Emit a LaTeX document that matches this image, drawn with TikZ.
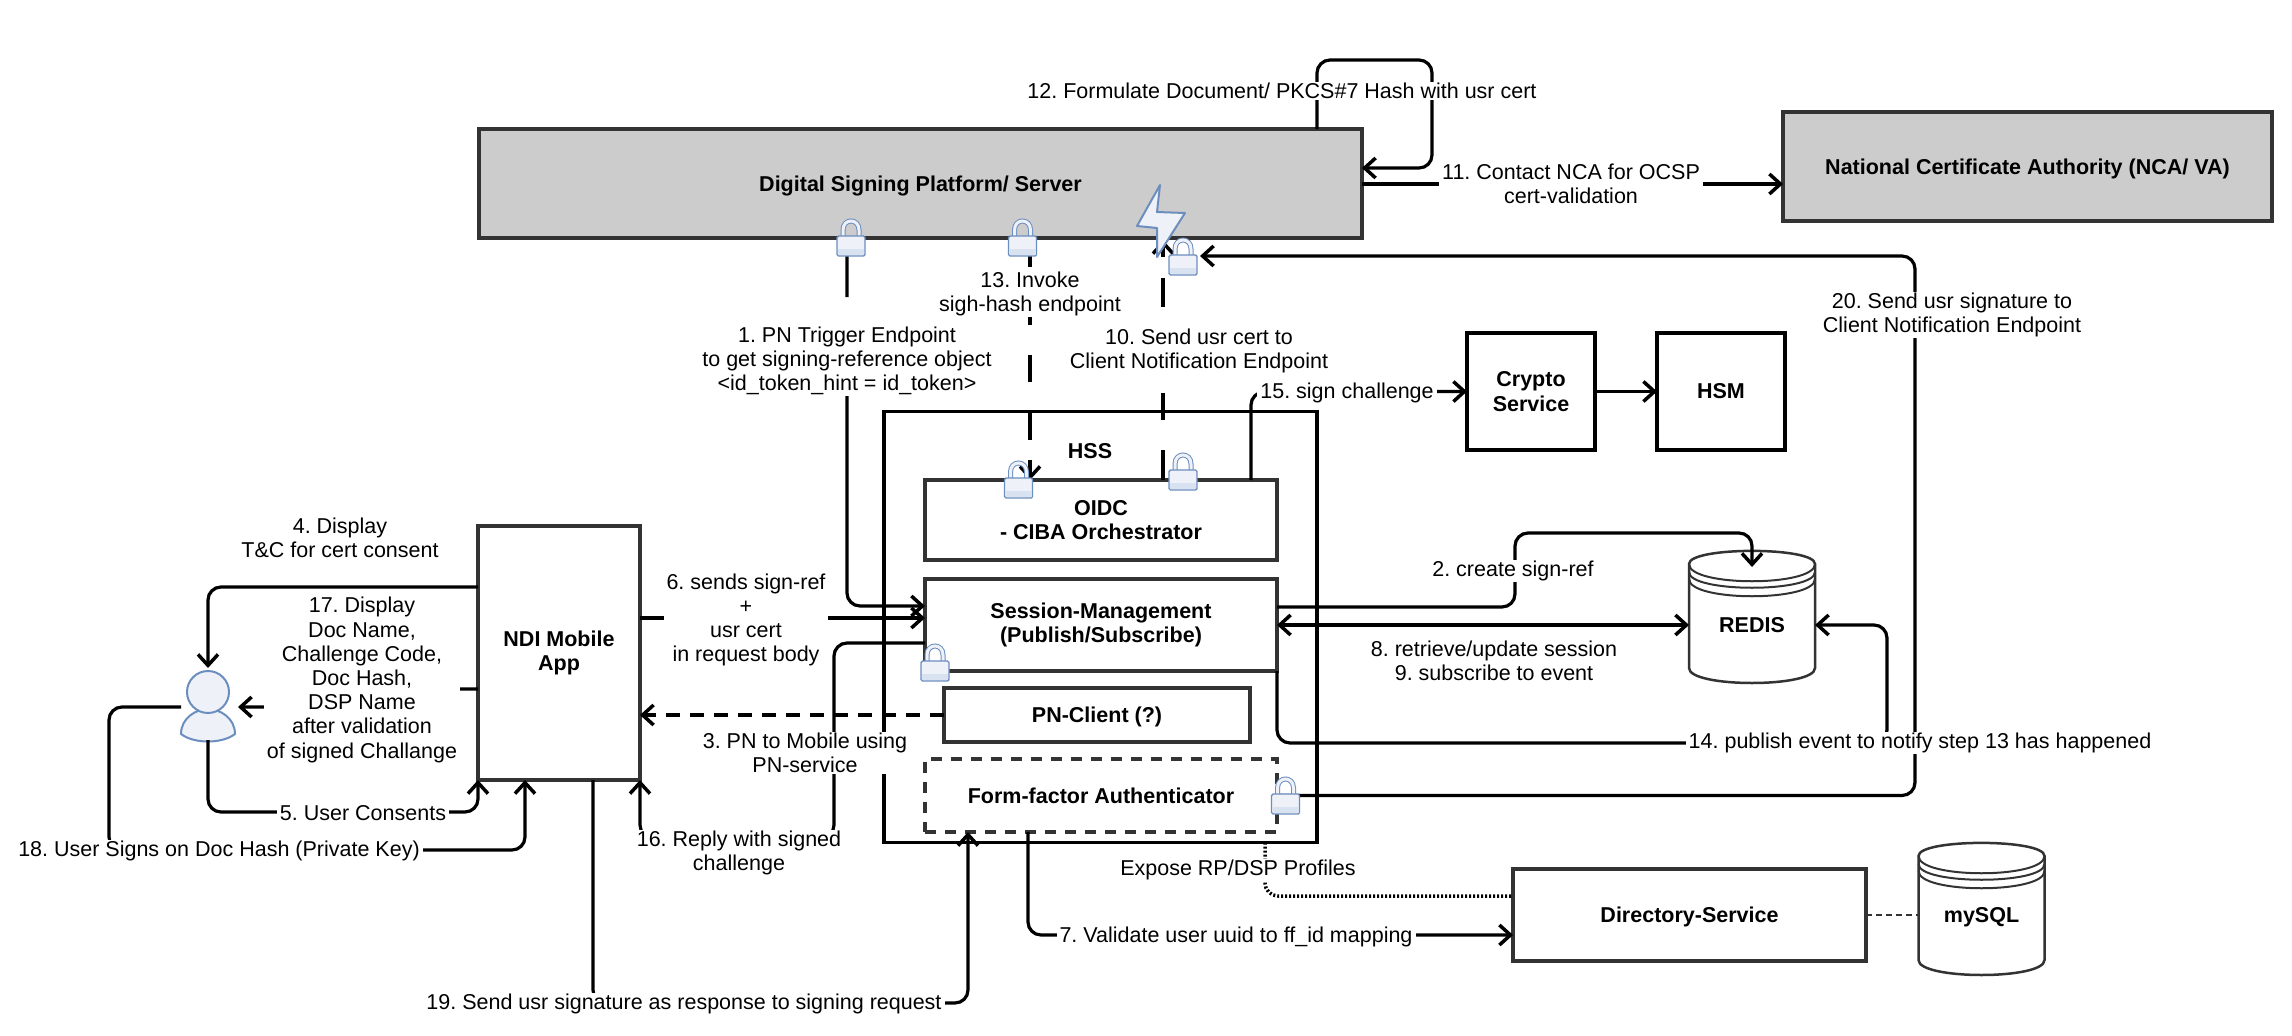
\documentclass[tikz,border=0pt]{standalone}
\usepackage{fontspec}
\setmainfont{Liberation Sans}
\usetikzlibrary{arrows.meta, positioning}
\definecolor{panelgray}{HTML}{CCCCCC}
\definecolor{edgegray}{HTML}{333333}
\definecolor{iconline}{HTML}{6C8EBF}
\definecolor{iconfill}{HTML}{EEF2F8}
\definecolor{iconband}{HTML}{D8E2F0}
\frenchspacing

\begin{document}
\begin{tikzpicture}[
    x=1pt, y=-1pt,
    box/.style={rectangle, draw=edgegray, line width=3.2pt, outer sep=0pt,
                align=center, font=\fontsize{21.5}{24.5}\selectfont\bfseries},
    panel/.style={box, fill=panelgray},
    store/.style={rectangle, outer sep=0pt, minimum width=126pt, minimum height=116pt,
                font=\fontsize{21.5}{24.5}\selectfont\bfseries},
    steplabel/.style={fill=white, align=center, inner xsep=3pt, inner ysep=1pt,
                font=\fontsize{21.5}{24.2}\selectfont},
    arrow/.style={-{Straight Barb[length=11pt,width=20pt,line width=3.5pt]}, line width=3.2pt,
                rounded corners=13pt},
    datastore/.pic={
        \draw[edgegray, line width=2.5pt] (-63,-61) .. controls (-63,-78.5) and (63,-78.5) .. (63,-61)
            -- (63,43) .. controls (63,63) and (-63,63) .. (-63,43) -- cycle;
        \draw[edgegray, line width=2pt] (-63,-61) .. controls (-63,-38) and (63,-38) .. (63,-61);
        \draw[edgegray, line width=2pt] (-63,-53) .. controls (-63,-32) and (63,-32) .. (63,-53);
        \draw[edgegray, line width=2pt] (-63,-46) .. controls (-63,-23) and (63,-23) .. (63,-46);
    },
    lockicon/.pic={
        \draw[iconline, double=iconfill, double distance=3pt, line width=1pt]
            (-8,-1) -- (-8,-8) .. controls (-8,-20) and (8,-20) .. (8,-8) -- (8,-1);
        \draw[iconline, fill=iconfill, line width=1.4pt, rounded corners=1.5pt] (-14,-2) rectangle (14,18);
        \fill[iconband] (-13,11) rectangle (13,17);
    },
    usericon/.pic={
        \draw[iconline, fill=iconfill, line width=2pt] (-27,27) .. controls (-27,11) and (-12,2) .. (0,2)
            .. controls (12,2) and (27,11) .. (27,27) .. controls (14,37) and (-14,37) .. (-27,27) -- cycle;
        \draw[iconline, fill=iconfill, line width=2pt] (0,-15) circle (21);
    },
]
\useasboundingbox (0,0) rectangle (2292,1036);

% Server and authority
\node[panel, minimum width=883pt, minimum height=109pt, text depth=-6pt] (dsp) at (920.5,183.5)
    {Digital Signing Platform/ Server};
\node[panel, minimum width=489pt, minimum height=109pt, text depth=-6pt] (nca) at (2027.5,166.5)
    {National Certificate Authority (NCA/ VA)};

% HSS and the services in it
\node[box, draw=black, minimum width=433pt, minimum height=431pt] (hss) at (1100.5,627) {};
\node[font=\fontsize{21.5}{24.5}\selectfont\bfseries] (hsstitle) at (1090,451) {HSS};
\node[box, minimum width=352pt, minimum height=80pt] (oidc) at (1101,520)
    {OIDC\\- CIBA Orchestrator};
\node[box, minimum width=352pt, minimum height=92pt, below=19pt of oidc] (session)
    {Session-Management\\(Publish/Subscribe)};
\node[box, minimum width=306pt, minimum height=54pt, text depth=-6pt] (pnclient) at (1097,715) {PN-Client (?)};
\node[box, dash pattern=on 11pt off 9pt, minimum width=352pt, minimum height=73pt] (formfactor)
    at (1101,795.5) {Form-factor Authenticator};

% Crypto services
\node[box, draw=black, minimum width=128pt, minimum height=117pt] (crypto) at (1531,391.5)
    {Crypto\\Service};
\node[box, draw=black, minimum width=128pt, minimum height=117pt, right=62pt of crypto] (hsm) {HSM};

% Mobile side
\node[box, minimum width=162pt, minimum height=254pt] (ndi) at (559,653) {NDI Mobile\\App};
\node[minimum width=54pt, minimum height=66pt, outer sep=0pt] (user) at (208,707) {};
\pic at (user) {usericon};

% Stores and directory
\node[store] (redis) at (1752,625) {REDIS};
\pic at (redis) {datastore};
\node[box, minimum width=353pt, minimum height=92pt, text depth=-6pt] (directory) at (1689.5,915) {Directory-Service};
\node[store] (mysql) at (1981.5,917) {mySQL};
\pic at (mysql) {datastore};

% Connectors
\draw[arrow, dash pattern=on 59pt off 96pt on 1000pt] (dsp.south -| 847,0) -- (847,606) -- (session.west |- 0,606);
\draw[arrow] (session.east |- 0,607) -- (1515,607) -- (1515,533) -- (1752,533) -- (redis.north);
\draw[arrow, dash pattern=on 14pt off 10pt, rounded corners=0pt] (pnclient.west) -- (ndi.east |- pnclient.west);
\draw[arrow, shorten >=6pt] (ndi.west |- 0,587) -- (208,587) -- (user.north);
\draw[arrow] (user.south) -- (208,812) -- (478,812) -- (ndi.south west);
\draw[arrow] (ndi.east |- 0,618) -- (session.west |- 0,618);
\draw[arrow] (formfactor.south -| 1028,0) -- (1028,935) -- (directory.west |- 0,935);
\draw[{Straight Barb[length=11pt,width=20pt,line width=3.5pt]}-{Straight Barb[length=11pt,width=20pt,line width=3.5pt]}, line width=3.2pt]
    (session.east) -- (redis.west);
\draw[arrow, dash pattern=on 30pt off 30pt on 27pt off 86pt on 29pt off 21pt on 40pt] (oidc.north -| 1163,0) -- (1163,240);
\draw[arrow] (dsp.east |- 0,184) -- (nca.west |- 0,184);
\draw[arrow] (dsp.north -| 1317,0) -- (1317,60) -- (1432,60) -- (1432,168) -- (dsp.east |- 0,168);
\draw[arrow, dash pattern=on 29pt off 50pt on 8pt off 30pt on 27pt off 31pt on 27pt off 20pt on 40pt] (dsp.south -| 1030,0) -- (oidc.north -| 1030,0);
\draw[arrow] (session.south east) -- (1277,743) -- (1887,743) -- (1887,625) -- (redis.east);
\draw[arrow] (oidc.north -| 1251,0) -- (1251,392) -- (crypto.west);
\draw[arrow] (crypto.east) -- (hsm.west);
\draw[arrow] (session.west |- 0,643) -- (834,643) -- (834,838) -- (640,838) -- (ndi.south east);
\draw[arrow, shorten >=3pt] (ndi.west |- 0,689) -- (370,689) -- (370,707) -- (user.east);
\draw[arrow] (user.west) -- (109,707) -- (109,850) -- (525,850) -- (ndi.south -| 525,0);
\draw[arrow] (ndi.south -| 593,0) -- (593,1003) -- (968,1003) -- (formfactor.south -| 968,0);
\coordinate (lockentry) at (1200,256);
\draw[arrow] (formfactor.east) -- (1915,795.5) -- (1915,256) -- (lockentry);
\draw[line width=3.5pt, dash pattern=on 2pt off 2pt, rounded corners=13pt] (hss.south -| 1265,0) -- (1265,896) -- (directory.west |- 0,896);
\draw[edgegray, line width=1.5pt, dash pattern=on 6pt off 4pt] (directory.east) -- (directory.east -| mysql.west);

% Padlocks and bolt
\pic at (851,238) {lockicon};
\pic at (1022.5,238) {lockicon};
\pic at (1018.5,480) {lockicon};
\pic at (1183,472) {lockicon};
\pic at (935,663) {lockicon};
\pic at (1285.5,796) {lockicon};
\draw[iconline, fill=iconfill, line width=2pt, line join=round] (1160,185) -- (1137,226) -- (1157,228)
    -- (1157,257) -- (1185,213) -- (1157,212) -- cycle;
\pic at (1183,257) {lockicon};

% Step labels
\node[steplabel] (stepone) at (847,361) {1. PN Trigger Endpoint\\to get signing-reference object\\<id\_token\_hint = id\_token>};
\node[steplabel] (steptwo) at (1513,571) {2. create sign-ref};
\node[steplabel] (stepthree) at (805,753) {3. PN to Mobile using\\PN-service};
\node[steplabel] (stepfour) at (340,538) {4. Display\\T\&C for cert consent};
\node[steplabel] (stepfive) at (363,813) {5. User Consents};
\node[steplabel] (stepsix) at (746,620) {6. sends sign-ref\\+\\usr cert\\in request body};
\node[steplabel] (stepseven) at (1236,937) {7. Validate user uuid to ff\_id mapping};
\node[steplabel] (stepeight) at (1494,661) {8. retrieve/update session\\9. subscribe to event};
\node[steplabel] (stepten) at (1199,351) {10. Send usr cert to\\Client Notification Endpoint};
\node[steplabel] (stepeleven) at (1571,184) {11. Contact NCA for OCSP\\cert-validation};
\node[steplabel] (steptwelve) at (1282,91) {12. Formulate Document/ PKCS\#7 Hash with usr cert};
\node[steplabel] (stepthirteen) at (1030,294) {13. Invoke\\sigh-hash endpoint};
\node[steplabel] (stepfourteen) at (1920,743) {14. publish event to notify step 13 has happened};
\node[steplabel] (stepfifteen) at (1347,393) {15. sign challenge};
\node[steplabel] (stepsixteen) at (739,853) {16. Reply with signed\\challenge};
\node[steplabel] (stepseventeen) at (362,680) {17. Display\\Doc Name,\\Challenge Code,\\Doc Hash,\\DSP Name\\after validation\\of signed Challange};
\node[steplabel] (stepeighteen) at (219,851) {18. User Signs on Doc Hash (Private Key)};
\node[steplabel] (stepnineteen) at (684,1004) {19. Send usr signature as response to signing request};
\node[steplabel] (steptwenty) at (1952,315) {20. Send usr signature to\\Client Notification Endpoint};
\node[steplabel] (expose) at (1238,870) {Expose RP/DSP Profiles};

\end{tikzpicture}
\end{document}
